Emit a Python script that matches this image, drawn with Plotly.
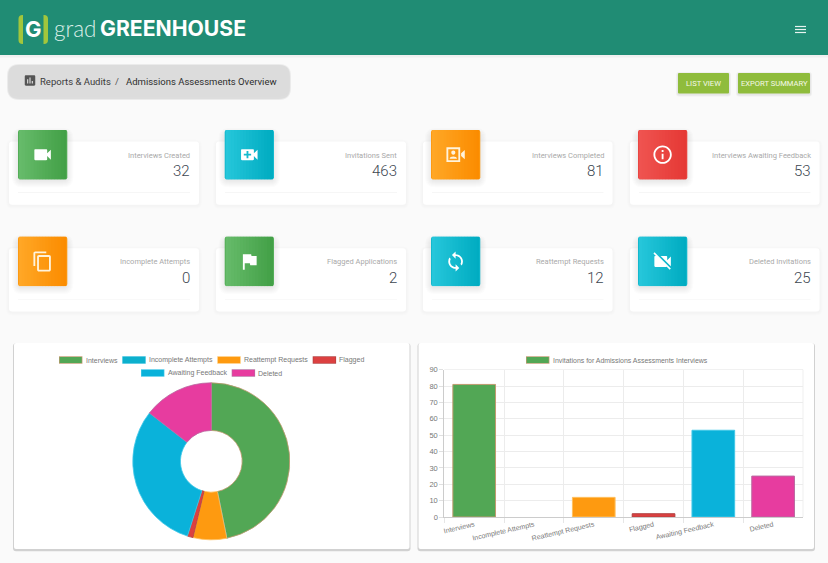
import re
import plotly.graph_objects as go

W, H = 828, 563

categories = ['Interviews', 'Incomplete Attempts', 'Reattempt Requests', 'Flagged', 'Awaiting Feedback', 'Deleted']
chart_values = [81, 0, 12, 2, 53, 25]
fill_colors = ['#52a755', '#0cb0cd', '#fe9a10', '#dc4040', '#0ab2da', '#e73c9f']
line_colors = ['#c09a70', '#20b8d8', '#ffc060', '#b04040', '#40c8e8', '#b86aa0']

card_titles = ['Interviews Created', 'Invitations Sent', 'Interviews Completed', 'Interviews Awaiting Feedback',
               'Incomplete Attempts', 'Flagged Applications', 'Reattempt Requests', 'Deleted Invitations']
card_values = [32, 463, 81, 53, 0, 2, 12, 25]

GREEN = ('#66bb6a', '#43a047')
CYAN = ('#26c6da', '#00acc1')
ORANGE = ('#ffa726', '#fb8c00')
RED = ('#ef5350', '#e53935')
card_tints = [GREEN, CYAN, ORANGE, RED, ORANGE, GREEN, CYAN, CYAN]

# material icons, 24x24 box
VIDEOCAM = 'M17 10.5V7c0-.55-.45-1-1-1H4c-.55 0-1 .45-1 1v10c0 .55.45 1 1 1h12c.55 0 1-.45 1-1v-3.5l4 4v-11l-4 4z'
VIDEO_CALL = VIDEOCAM + 'M14 13h-3v3H9v-3H6v-2h3V8h2v3h3v2z'
CONTACT_CAM = ('M2 4H17V20H2ZM4 6V18H15V6Z M9.5 7.5C11 7.5 11.7 8.5 11.7 9.7C11.7 11 11 12 9.5 12C8 12 7.3 11 7.3 9.7C7.3 8.5 8 7.5 9.5 7.5Z '
               'M5.5 16.5C5.5 13 13.5 13 13.5 16.5Z M18 10.5L22 7V17L18 13.5Z')
INFO = ('M11 7h2v2h-2zm0 4h2v6h-2zm1-9C6.48 2 2 6.48 2 12s4.48 10 10 10 10-4.48 10-10S17.52 2 12 2z'
        'm0 18c-4.41 0-8-3.59-8-8s3.59-8 8-8 8 3.59 8 8-3.59 8-8 8z')
COPY = 'M16 1H4c-1.1 0-2 .9-2 2v14h2V3h12V1zm3 4H8c-1.1 0-2 .9-2 2v14c0 1.1.9 2 2 2h11c1.1 0 2-.9 2-2V7c0-1.1-.9-2-2-2zm0 16H8V7h11v14z'
FLAG = 'M14.4 6L14 4H5v17h2v-7h5.6l.4 2h7V6z'
SYNC = ('M12 4V1L8 5l4 4V6c3.31 0 6 2.69 6 6 0 1.01-.25 1.97-.7 2.8l1.46 1.46C19.54 15.03 20 13.57 20 12c0-4.42-3.58-8-8-8z'
        'm0 14c-3.31 0-6-2.69-6-6 0-1.01.25-1.97.7-2.8L5.24 7.74C4.46 8.97 4 10.43 4 12c0 4.42 3.58 8 8 8v3l4-4-4-4v3z')
CAM_OFF = ('M21 6.5l-4 4V7c0-.55-.45-1-1-1H9.82L21 17.18V6.5zM3.27 2L2 3.27 4.73 6H4c-.55 0-1 .45-1 1v10c0 .55.45 1 1 1h12'
           'c.21 0 .39-.08.54-.18L19.73 21 21 19.73 3.27 2z')
ASSESSMENT = ('M19 3H5c-1.1 0-2 .9-2 2v14c0 1.1.9 2 2 2h14c1.1 0 2-.9 2-2V5c0-1.1-.9-2-2-2zM9 17H7v-7h2v7zm4 0h-2V7h2v10z'
              'm4 0h-2v-4h2v4z')
card_icons = [VIDEOCAM, VIDEO_CALL, CONTACT_CAM, INFO, COPY, FLAG, SYNC, CAM_OFF]

shapes = []
notes = []


def px(x):
    return x / W


def py(y):
    return 1 - y / H


def rect(x0, y0, x1, y1, color, r=0):
    if r:
        d = (f'M{px(x0 + r)},{py(y0)} L{px(x1 - r)},{py(y0)} Q{px(x1)},{py(y0)} {px(x1)},{py(y0 + r)} '
             f'L{px(x1)},{py(y1 - r)} Q{px(x1)},{py(y1)} {px(x1 - r)},{py(y1)} L{px(x0 + r)},{py(y1)} '
             f'Q{px(x0)},{py(y1)} {px(x0)},{py(y1 - r)} L{px(x0)},{py(y0 + r)} Q{px(x0)},{py(y0)} {px(x0 + r)},{py(y0)} Z')
        shapes.append(dict(type='path', path=d, xref='paper', yref='paper', fillcolor=color,
                           line_width=0, layer='below'))
    else:
        shapes.append(dict(type='rect', x0=px(x0), x1=px(x1), y0=py(y0), y1=py(y1), xref='paper', yref='paper',
                           fillcolor=color, line_width=0, layer='below'))


def shadow(x0, y0, x1, y1, r=3, dy=1, spread=3, rgb='0,0,0', alpha=0.02):
    for s in range(spread, 0, -1):
        rect(x0 - s, y0 - s + dy, x1 + s, y1 + s + dy, f'rgba({rgb},{alpha})', r + s)


def icon(d, cx, cy, size, color):
    # relative svg commands do not survive shape paths, so write them out absolute
    k = size / 24
    x0, y0 = cx - size / 2, cy - size / 2
    tokens = re.findall(r'[a-zA-Z]|-?\d*\.?\d+', d)
    out = []
    i = 0
    x = y = sx = sy = 0
    cmd = None

    def pt(a, b):
        return f'{px(x0 + a * k)},{py(y0 + b * k)}'

    while i < len(tokens):
        if tokens[i].isalpha():
            cmd = tokens[i]
            i += 1
            if cmd in 'zZ':
                out.append('Z')
                x, y = sx, sy
                continue
        rel = cmd.islower()
        c = cmd.upper()
        n = {'M': 2, 'L': 2, 'H': 1, 'V': 1, 'C': 6, 'S': 4}[c]
        v = [float(t) for t in tokens[i:i + n]]
        i += n
        if c == 'H':
            x = x + v[0] if rel else v[0]
            out.append('L' + pt(x, y))
        elif c == 'V':
            y = y + v[0] if rel else v[0]
            out.append('L' + pt(x, y))
        else:
            pts = []
            for j in range(0, n, 2):
                a, b = v[j], v[j + 1]
                if rel:
                    a, b = a + x, b + y
                pts.append((a, b))
            out.append(c + ' '.join(pt(a, b) for a, b in pts))
            x, y = pts[-1]
            if c == 'M':
                sx, sy = x, y
                cmd = 'l' if rel else 'L'
    shapes.append(dict(type='path', path=' '.join(out), xref='paper', yref='paper', fillcolor=color,
                       line_width=0, layer='below'))


def mix(c0, c1, t):
    a = [int(c0[i:i + 2], 16) for i in (1, 3, 5)]
    b = [int(c1[i:i + 2], 16) for i in (1, 3, 5)]
    return 'rgb(' + ','.join(str(round(p + (q - p) * t)) for p, q in zip(a, b)) + ')'


def text(s, x, y, size, color, anchor='left', family='Roboto', weight=None):
    font = dict(family=family, size=size, color=color)
    if weight:
        font['weight'] = weight
    notes.append(dict(text=s, x=px(x), y=py(y), xref='paper', yref='paper', xanchor=anchor, yanchor='middle',
                      showarrow=False, font=font, borderpad=0))


# page and header
rect(0, 0, W, H, '#fafafa')
shadow(0, 0, W, 55, r=0, dy=1, spread=2)
rect(0, 0, W, 55, '#208c74')

# logo
rect(18.5, 15, 48, 44, '#a2c63c', 4)
rect(23, 15, 43.5, 44, '#208c74')
text('G', 33.3, 29.5, 22, '#ffffff', 'center', 'Inter', 700)
text('grad', 52.5, 28, 22.5, '#dcefe9', family='Lato', weight=300)
text('GREENHOUSE', 98.5, 28, 21.2, '#ffffff', family='Inter', weight=700)

# hamburger
for y in (26.5, 29.5, 32.5):
    rect(795, y - 0.6, 806, y + 0.6, '#e8f4f0')

# breadcrumb
shadow(9, 65, 289, 97, r=10, dy=1, spread=2, alpha=0.06)
rect(9, 65, 289, 97, '#dcdcdc', 10)
icon(ASSESSMENT, 30, 80.5, 14, '#555555')
text('Reports &amp; Audits', 38.5, 81, 9.5, '#3a3a3a')
text('/', 117, 81, 9.5, '#555555', 'center')
text('Admissions Assessments Overview', 124.5, 81, 9.5, '#2d2d2d')

# buttons
for x0, x1, label in [(678, 729, 'LIST VIEW'), (738, 810, 'EXPORT SUMMARY')]:
    shadow(x0, 73, x1, 93.5, r=1, dy=1, spread=2, alpha=0.04)
    rect(x0, 73, x1, 93.5, '#8fbc3c', 1)
    text(label, (x0 + x1) / 2, 83.5, 7.6, '#f4f9e8', 'center')

# stat cards
card_x = [9, 216, 423, 630]
tile_x = [18, 224.7, 431, 638]
for i, title in enumerate(card_titles):
    col, row = i % 4, i // 4
    top = 141.5 if row == 0 else 248.3
    x0 = card_x[col]
    x1 = x0 + 190 - (0.5 if col > 1 else 0)
    shadow(x0, top, x1, top + 63.3, r=3, dy=1, spread=3, alpha=0.009)
    rect(x0, top, x1, top + 63.3, '#ffffff', 3)
    rect(x0 + 9, top + 50.6, x1 - 9, top + 51.2, '#f3f3f3')
    text(title, x1 - 8, top + 13.5, 7.5, '#a9a9a9', 'right')
    text(str(card_values[i]), x1 - 8, top + 29.5, 15, '#3c4650', 'right', weight=300)

    tx, ty = tile_x[col], top - 11.5
    c0, c1 = card_tints[i]
    # soft tinted shadow under the tile
    for s in range(7, 0, -1):
        rect(tx - s + 1, ty - s + 5, tx + 49.3 + s - 1, ty + 49.3 + s + 1, 'rgba(60,60,60,0.016)', 3 + s)
    rect(tx, ty, tx + 49.3, ty + 49.3, mix(c0, c1, 0.5), 2)
    steps = 16
    for k in range(steps):
        a = tx + 1 + (47.3 * k) / steps
        b = tx + 1 + (47.3 * (k + 1)) / steps + 0.3
        rect(a, ty, min(b, tx + 48.3), ty + 49.3, mix(c0, c1, k / (steps - 1)))
    icon(card_icons[i], tx + 24.6, ty + 24.7, 22, '#ffffff' if i != 4 and i != 2 else '#fff3dc')

# chart panels
for x0, x1 in [(14, 409.5), (418.5, 814)]:
    shadow(x0, 343, x1, 549, r=2, dy=1.2, spread=1, alpha=0.16)
    rect(x0, 343, x1, 549, '#ffffff', 2)

legend_rows = [(59, 360, 0), (122.3, 360, 1), (217.3, 360, 2), (312.7, 360, 3), (141, 373, 4), (231.7, 373, 5)]
for x, y, i in legend_rows:
    rect(x, y - 3.7, x + 23.4, y + 3.7, line_colors[i])
    rect(x + 0.7, y - 3, x + 22.7, y + 3, fill_colors[i])
    text(categories[i], x + 25.7, y + 0.2, 7, '#777777', family='Liberation Sans')

rect(526, 356.3, 549.4, 363.7, line_colors[0])
rect(526.7, 357, 548.7, 363, fill_colors[0])
text('Invitations for Admissions Assessments Interviews', 551.7, 360.2, 6.95, '#777777', family='Liberation Sans')

# plotly leaves out the grid lines on the far edges of the plot area
rect(444.3, 369.3, 803, 370, '#ececec')
rect(802.6, 369.7, 803.4, 517, '#ececec')

fig = go.Figure()

fig.add_trace(go.Pie(labels=categories, values=chart_values, sort=False, direction='clockwise', rotation=0,
                     hole=0.393, textinfo='none', showlegend=False,
                     marker=dict(colors=fill_colors, line=dict(color=line_colors, width=0.8)),
                     domain=dict(x=[px(211.3 - 78.5), px(211.3 + 78.5)], y=[py(461.3 + 78.5), py(461.3 - 78.5)])))

# a zero bar should not leave its outline on the axis
fig.add_trace(go.Bar(x=categories, y=chart_values, showlegend=False,
                     marker=dict(color=fill_colors,
                                 line=dict(color=line_colors, width=[1 if v else 0 for v in chart_values]))))

fig.update_layout(
    width=W, height=H, autosize=False, margin=dict(l=0, r=0, t=0, b=0, pad=0),
    paper_bgcolor='#fafafa', plot_bgcolor='rgba(0,0,0,0)', bargap=0.286,
    shapes=shapes, annotations=notes,
    font=dict(family='Liberation Sans', color='#777777'),
)
fig.update_xaxes(domain=[px(444.3), px(803)], automargin=False, tickson='boundaries', ticks='outside', ticklen=5,
                 tickwidth=1, tickcolor='#e6e6e6', showgrid=True, gridcolor='#ececec', gridwidth=1, showline=True,
                 linecolor='#cccccc', tickangle=-13, tickfont=dict(size=7, color='#777777'),
                 fixedrange=True, zeroline=False)
fig.update_yaxes(domain=[py(517), py(369.7)], automargin=False, range=[0, 90], dtick=10, ticks='outside', ticklen=4,
                 tickwidth=1, tickcolor='#e0e0e0', showgrid=True, gridcolor='#ececec', gridwidth=1, showline=True,
                 linecolor='#cccccc', tickfont=dict(size=7.5, color='#777777'), fixedrange=True, zeroline=False)

fig.write_html('out.html', config={'displayModeBar': False},
               post_script="document.body.style.margin='0';document.body.style.overflow='hidden';")
print('Saved: out.html')
